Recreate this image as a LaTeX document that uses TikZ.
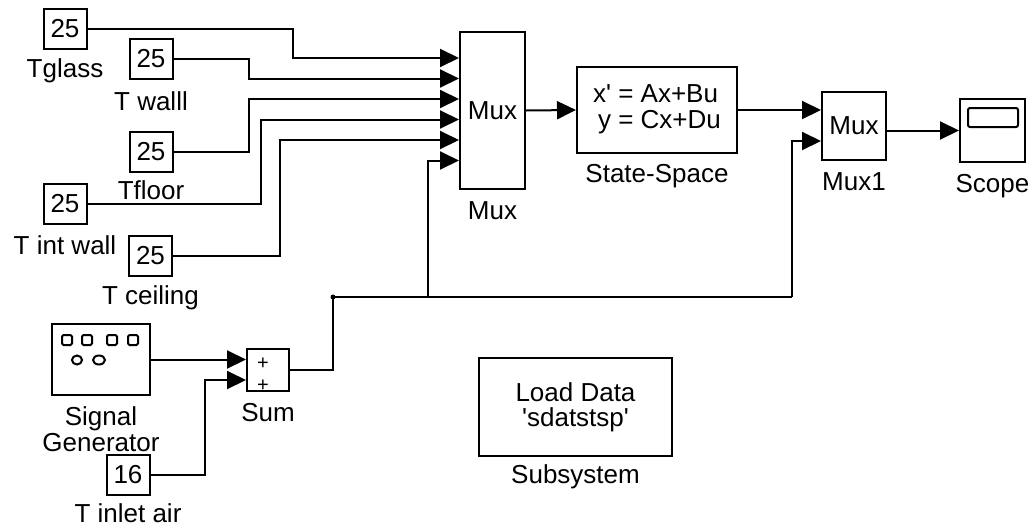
\documentclass[tikz,border=0pt]{standalone}
\usepackage{fontspec}
\setmainfont{Liberation Sans}
\usepackage{tikz}
\usetikzlibrary{arrows.meta,calc,positioning}

\begin{document}
\begin{tikzpicture}[x=1pt,y=-1pt,font=\fontsize{26}{25}\selectfont,line width=2pt,
    blk/.style={draw,inner sep=0pt},
    cst/.style={blk,minimum width=43pt,minimum height=40pt},
    lbl/.style={inner sep=0pt,text height=18pt},
    sig/.style={-{Triangle[length=19pt,width=18pt]}}]
        \useasboundingbox (0,0) rectangle (1033,528);
        % constant blocks
        \node[cst] (tglass) at (65,28.5) {25};
        \node[cst] (twall) at (151,58.5) {25};
        \node[cst] (tfloor) at (151,152) {25};
        \node[cst] (tint) at (65,204) {25};
        \node[cst] (tceil) at (150.5,256) {25};
        \node[cst] (tinlet) at (128,475) {16};
        \node[lbl,below=9pt of tglass] {Tglass};
        \node[lbl,below=12pt of twall] {T walll};
        \node[lbl,below=7pt of tfloor] {Tfloor};
        \node[lbl,below=10pt of tint] {T int wall};
        \node[lbl,below=8pt of tceil] {T ceiling};
        \node[lbl,below=7pt of tinlet] {T inlet air};
        % main blocks
        \node[blk,minimum width=65pt,minimum height=157pt] (mux) at (492.5,110.5) {Mux};
        \node[blk,minimum width=160pt,minimum height=86pt] (ss) at (657,110)
          {\begin{tabular}{@{}r@{ = }l@{}}x\textquotesingle & Ax+Bu\\ y & Cx+Du\end{tabular}};
        \node[blk,minimum width=64pt,minimum height=68pt] (mux1) at (854,126) {Mux};
        \node[blk,minimum width=65pt,minimum height=63pt] (scope) at (992.5,130.5) {};
        \node[blk,minimum width=98pt,minimum height=71pt] (siggen) at (101,359.5) {};
        \node[blk,minimum width=42pt,minimum height=42pt] (sum) at (268,370) {};
        \node[blk,minimum width=193pt,minimum height=98pt,align=center] (subsys) at (575.5,407)
          {Load Data\\ \textquotesingle sdatstsp\textquotesingle};
        \node[lbl,below=10pt of mux] {Mux};
        \node[lbl,below=9pt of ss] {State-Space};
        \node[lbl,below=10pt of mux1] {Mux1};
        \node[lbl,below=10pt of scope] {Scope};
        \node[lbl,below=10pt of siggen] (siglbl) {Signal};
        \node[lbl,below=7pt of siglbl.base] {Generator};
        \node[lbl,below=10pt of sum] {Sum};
        \node[lbl,below=7pt of subsys] {Subsystem};
        % block icons
        \draw[rounded corners=2pt] (968,108) rectangle (1018,127);
        \foreach \x in {62,82,107,128}
          \draw[rounded corners=1.5pt] (\x,335) rectangle ++(10,10);
        \draw (77,360) ellipse [x radius=5pt,y radius=4.5pt];
        \draw (99,360) ellipse [x radius=6pt,y radius=4.5pt];
        \node[font=\fontsize{20}{20}\selectfont,inner sep=0pt] at (263,364) {+};
        \node[font=\fontsize{20}{20}\selectfont,inner sep=0pt] at (263,386) {+};
        % ports
        \foreach \i in {1,...,6}
          \coordinate (mux-in\i) at ($(mux.north west)+(0,6.5+20.5*\i)$);
        \coordinate (mux1-in1) at (mux1.west |- ss.east);
        \coordinate (mux1-in2) at ($(mux1.north west)+(0,50)$);
        \coordinate (sum-in1) at (sum.west |- siggen.east);
        \coordinate (sum-in2) at ($(sum.north west)+(0,32)$);
        \coordinate (br) at (333,297);
        \coordinate (tap1) at (428,297);
        \coordinate (tap2) at (792,297);
        % signal lines
        \draw[sig] (tglass.east) -- ++(205,0) |- (mux-in1);
        \draw[sig] (twall.east) -- ++(75,0) |- (mux-in2);
        \draw[sig] (tfloor.east) -- ++(75,0) |- (mux-in3);
        \draw[sig] (tint.east) -- ++(173,0) |- (mux-in4);
        \draw[sig] (tceil.east) -- ++(107,0) |- (mux-in5);
        \draw[sig] (tap1) |- (mux-in6);
        \draw[sig] (mux.east) -- (ss.west);
        \draw[sig] (ss.east) -- (mux1-in1);
        \draw[sig] (tap2) |- (mux1-in2);
        \draw[sig] (mux1.east |- scope.west) -- (scope.west);
        \draw[sig] (siggen.east) -- (sum-in1);
        \draw[sig] (tinlet.east) -- ++(54,0) |- (sum-in2);
        \draw (sum.east) -| (br) -- (tap2);
        \fill (br) circle (2.5pt);
      \end{tikzpicture}
\end{document}
